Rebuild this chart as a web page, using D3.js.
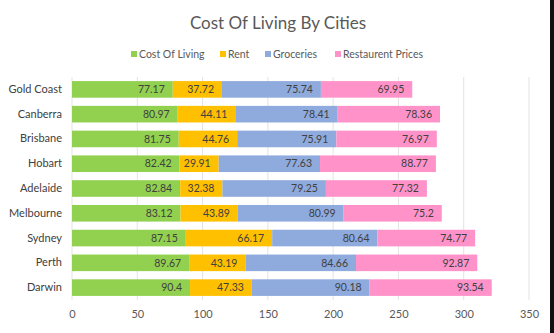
<!DOCTYPE html>
<html><head><meta charset="utf-8">
<script src="https://cdn.jsdelivr.net/npm/d3@7"></script>
<style>body{margin:0;background:#fff;}svg{display:block;font-family:Lato,"Open Sans",sans-serif;}</style>
</head><body>
<svg id="c" width="554" height="333"></svg>
<script>
const cities = ["Gold Coast","Canberra","Brisbane","Hobart","Adelaide","Melbourne","Sydney","Perth","Darwin"];
const seriesNames = ["Cost Of Living","Rent","Groceries","Restaurent Prices"];
const costOfLiving = [77.17,80.97,81.75,82.42,82.84,83.12,87.15,89.67,90.4];
const rent = [37.72,44.11,44.76,29.91,32.38,43.89,66.17,43.19,47.33];
const groceries = [75.74,78.41,75.91,77.63,79.25,80.99,80.64,84.66,90.18];
const restaurant = [69.95,78.36,76.97,88.77,77.32,75.2,74.77,92.87,93.54];
const xTicks = [0,50,100,150,200,250,300,350];
const colors = ["#92D050","#FFC000","#8FAADC","#FF93C9"];

const svg = d3.select("#c");
const table = cities.map((c,i)=>({city:c,"Cost Of Living":costOfLiving[i],"Rent":rent[i],"Groceries":groceries[i],"Restaurent Prices":restaurant[i]}));
const stacked = d3.stack().keys(seriesNames)(table);

const x = d3.scaleLinear().domain([0,350]).range([72,529]);
const y = d3.scaleBand().domain(cities).range([77,300]).paddingInner(0.33).paddingOuter(0.165);

// gridlines
svg.append("g").selectAll("line").data(xTicks).join("line")
  .attr("x1",d=>x(d)).attr("x2",d=>x(d)).attr("y1",77).attr("y2",300)
  .attr("stroke","#e3e3e3").attr("stroke-width",1);

// x axis labels
const xa = svg.append("g").attr("transform","translate(0,300)")
  .call(d3.axisBottom(x).tickValues(xTicks).tickSize(0).tickPadding(10));
xa.select(".domain").remove();
xa.selectAll("text").attr("fill","#595959").attr("font-size",11).attr("font-family","Lato,sans-serif");

// y axis labels
const ya = svg.append("g").attr("transform","translate(72,0)")
  .call(d3.axisLeft(y).tickSize(0).tickPadding(10));
ya.select(".domain").remove();
ya.selectAll("text").attr("fill","#404040").attr("font-size",11).attr("font-family","Lato,sans-serif");

// bars
const layers = svg.append("g").selectAll("g").data(stacked).join("g").attr("fill",(d,i)=>colors[i]);
layers.selectAll("rect").data(d=>d).join("rect")
  .attr("x",d=>x(d[0])).attr("width",d=>x(d[1])-x(d[0]))
  .attr("y",d=>y(d.data.city)).attr("height",y.bandwidth());

// labels
const lab = svg.append("g").selectAll("g").data(stacked).join("g");
lab.selectAll("text").data(d=>d.map(v=>({v,key:d.key}))).join("text")
  .attr("x",d=>x(d.v[1])-8).attr("y",d=>y(d.v.data.city)+y.bandwidth()/2)
  .attr("dy","0.35em").attr("text-anchor","end")
  .attr("font-size",10.5).attr("fill","#404040")
  .text(d=>d.v.data[d.key]);

// title
svg.append("text").attr("x",278).attr("y",29).attr("text-anchor","middle")
  .attr("font-size",17).attr("fill","#595959").text("Cost Of Living By Cities");

// legend
const legX = [131,220,265,335];
const lg = svg.append("g").selectAll("g").data(seriesNames).join("g")
  .attr("transform",(d,i)=>`translate(${legX[i]},54)`);
lg.append("rect").attr("x",0).attr("y",-3).attr("width",6).attr("height",6).attr("fill",(d,i)=>colors[i]);
lg.append("text").attr("x",8).attr("dy","0.35em").attr("font-size",10.5).attr("fill","#595959").text(d=>d);

// right border
svg.append("rect").attr("x",550).attr("y",0).attr("width",4).attr("height",333).attr("fill","#111");
</script>
</body></html>
